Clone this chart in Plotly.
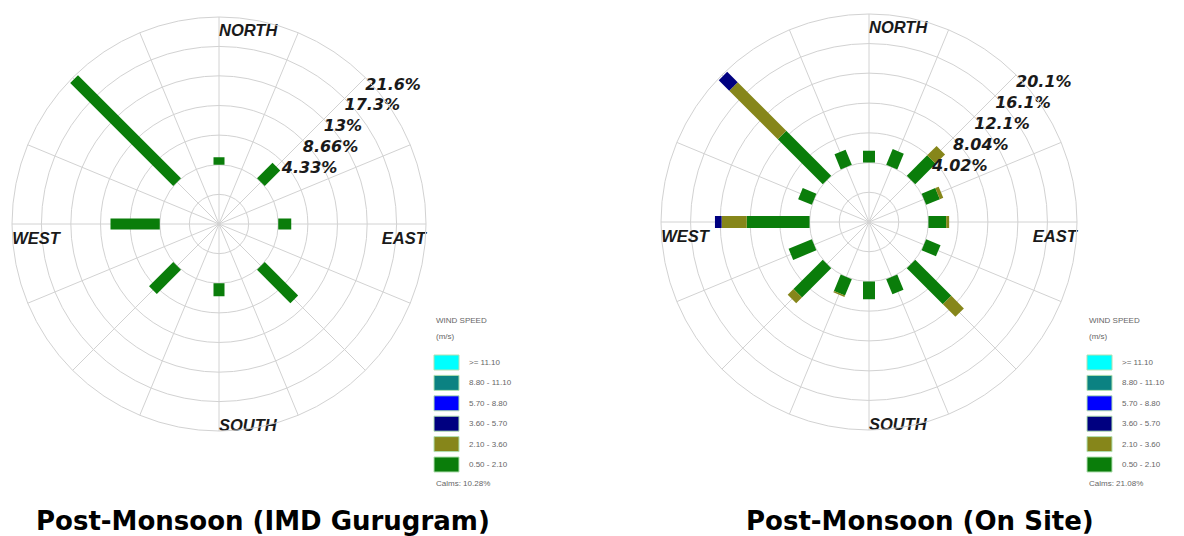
import plotly.graph_objects as go

W, H = 1184, 536

# ---------------- data ----------------
dir_angles = [0, 22.5, 45, 67.5, 90, 112.5, 135, 157.5, 180, 202.5, 225, 247.5, 270, 292.5, 315, 337.5]
cardinal_text = ["NORTH", "EAST", "SOUTH", "WEST"]

speed_classes = [">= 11.10", "8.80 - 11.10", "5.70 - 8.80", "3.60 - 5.70", "2.10 - 3.60", "0.50 - 2.10"]
class_colors = ["#00ffff", "#0b8282", "#0000ff", "#000080", "#86861a", "#0a7d0a"]

# IMD Gurugram, frequency (%) per direction, by speed class
imd_050_210 = [1.1, 0, 3.2, 0, 1.9, 0, 6.9, 0, 1.9, 0, 5.0, 0, 7.2, 0, 21.3, 0]
imd_210_360 = [0, 0, 0, 0, 0, 0, 0, 0, 0, 0, 0, 0, 0, 0, 0, 0]
imd_360_570 = [0, 0, 0, 0, 0, 0, 0, 0, 0, 0, 0, 0, 0, 0, 0, 0]
imd_rings = [4.33, 8.66, 13.0, 17.3, 21.6]
imd_ring_text = ["4.33%", "8.66%", "13%", "17.3%", "21.6%"]
imd_calms = "Calms: 10.28%"

# On site, frequency (%) per direction, by speed class
site_050_210 = [1.6, 2.3, 3.9, 2.0, 2.4, 2.1, 6.9, 2.2, 2.4, 2.4, 5.6, 3.4, 8.5, 2.0, 8.6, 2.2]
site_210_360 = [0, 0, 1.8, 0.5, 0.4, 0, 2.4, 0, 0, 0.2, 1.1, 0, 3.4, 0, 9.3, 0]
site_360_570 = [0, 0, 0, 0, 0, 0, 0, 0, 0, 0, 0, 0, 0.9, 0, 2.0, 0]
site_rings = [4.02, 8.04, 12.1, 16.1, 20.1]
site_ring_text = ["4.02%", "8.04%", "12.1%", "16.1%", "20.1%"]
site_calms = "Calms: 21.08%"

titles = ["Post-Monsoon (IMD Gurugram)", "Post-Monsoon (On Site)"]

# ---------------- style / layout ----------------
GRID = "#d2d2d2"
LEFT = dict(cx=219, cy=224, R=207, legx=434, titlex=34)
RIGHT = dict(cx=869, cy=222, R=208, legx=1087, titlex=744)

fig = go.Figure()


def add_rose(subplot, class_values, colors, width):
    cum = [0.0] * len(dir_angles)
    for vals, col in zip(class_values, colors):
        r, th = [], []
        for i, v in enumerate(vals):
            if v > 0:
                r += [cum[i], cum[i] + v, None]
                th += [dir_angles[i], dir_angles[i], None]
                cum[i] += v
        if r:
            fig.add_trace(go.Scatterpolar(
                r=r, theta=th, mode="lines", subplot=subplot,
                line=dict(color=col, width=width), hoverinfo="skip",
                showlegend=False, cliponaxis=False))


def add_labels(subplot, rings, ring_text):
    # ring labels just below-right of where each ring meets the NE spoke
    fig.add_trace(go.Scatterpolar(
        r=rings, theta=[45] * len(rings), mode="text", text=ring_text,
        textposition="bottom right", subplot=subplot, cliponaxis=False,
        textfont=dict(family="DejaVu Sans", size=16, color="#1a1a1a",
                      weight="bold", style="italic"),
        hoverinfo="skip", showlegend=False))
    rmax = rings[-1]
    fig.add_trace(go.Scatterpolar(
        r=[rmax * 0.955, rmax, rmax * 0.97, rmax],
        theta=[0, 92, 180, 268],
        mode="text", text=cardinal_text,
        textposition=["bottom right", "bottom left", "middle right", "bottom right"],
        subplot=subplot, cliponaxis=False,
        textfont=dict(family="Liberation Sans", size=16.5, color="#1a1a1a",
                      weight="bold", style="italic"),
        hoverinfo="skip", showlegend=False))


# stacking from centre outwards: lowest speed class first
add_rose("polar", [imd_050_210, imd_210_360, imd_360_570],
         [class_colors[5], class_colors[4], class_colors[3]], 11)
add_labels("polar", imd_rings, imd_ring_text)
add_rose("polar2", [site_050_210, site_210_360, site_360_570],
         [class_colors[5], class_colors[4], class_colors[3]], 12)
add_labels("polar2", site_rings, site_ring_text)


def polar_layout(g, rings):
    step = rings[0]
    return dict(
        domain=dict(x=[(g["cx"] - g["R"]) / W, (g["cx"] + g["R"]) / W],
                    y=[(H - g["cy"] - g["R"]) / H, (H - g["cy"] + g["R"]) / H]),
        bgcolor="rgba(0,0,0,0)",
        radialaxis=dict(range=[-2 * step, rings[-1]], tickmode="array",
                        tickvals=[-step, 0] + rings, showticklabels=False,
                        ticks="", showline=False, gridcolor=GRID, gridwidth=1),
        angularaxis=dict(rotation=90, direction="clockwise", tickmode="array",
                         tickvals=dir_angles, showticklabels=False, ticks="",
                         gridcolor=GRID, gridwidth=1, showline=True,
                         linecolor=GRID, linewidth=1),
    )


shapes, annotations = [], []


def add_legend(g, calms):
    x0 = g["legx"]
    small = dict(family="Liberation Sans", size=8, color="#666666")
    annotations.append(dict(x=x0 / W, y=1 - 320 / H, xref="paper", yref="paper",
                            text="WIND SPEED", showarrow=False, xanchor="left",
                            yanchor="middle", font=small))
    annotations.append(dict(x=x0 / W, y=1 - 336 / H, xref="paper", yref="paper",
                            text="(m/s)", showarrow=False, xanchor="left",
                            yanchor="middle", font=small))
    for i, (lab, col) in enumerate(zip(speed_classes, class_colors)):
        top = 355 + i * 20.4
        shapes.append(dict(type="rect", xref="paper", yref="paper",
                           x0=x0 / W, x1=(x0 + 25) / W,
                           y0=1 - (top + 15) / H, y1=1 - top / H,
                           fillcolor=col, line=dict(color="#b0e0b0", width=1)))
        annotations.append(dict(x=(x0 + 33) / W, y=1 - (top + 7.5) / H,
                                xref="paper", yref="paper", text=lab,
                                showarrow=False, xanchor="left", yanchor="middle",
                                font=small))
    annotations.append(dict(x=x0 / W, y=1 - 483 / H, xref="paper", yref="paper",
                            text=calms, showarrow=False, xanchor="left",
                            yanchor="middle", font=small))


add_legend(LEFT, imd_calms)
add_legend(RIGHT, site_calms)

for g, t in zip([LEFT, RIGHT], titles):
    annotations.append(dict(x=g["titlex"] / W, y=1 - 521 / H, xref="paper", yref="paper",
                            text="<b>%s</b>" % t, showarrow=False, xanchor="left",
                            yanchor="middle",
                            font=dict(family="DejaVu Sans", size=26, color="#000000")))

fig.update_layout(
    width=W, height=H, autosize=False,
    margin=dict(l=0, r=0, t=0, b=0, pad=0),
    paper_bgcolor="white", plot_bgcolor="white",
    polar=polar_layout(LEFT, imd_rings),
    polar2=polar_layout(RIGHT, site_rings),
    shapes=shapes, annotations=annotations,
    showlegend=False,
)

fig.write_html("out.html", config={"displayModeBar": False},
               post_script="document.body.style.margin='0px';")
